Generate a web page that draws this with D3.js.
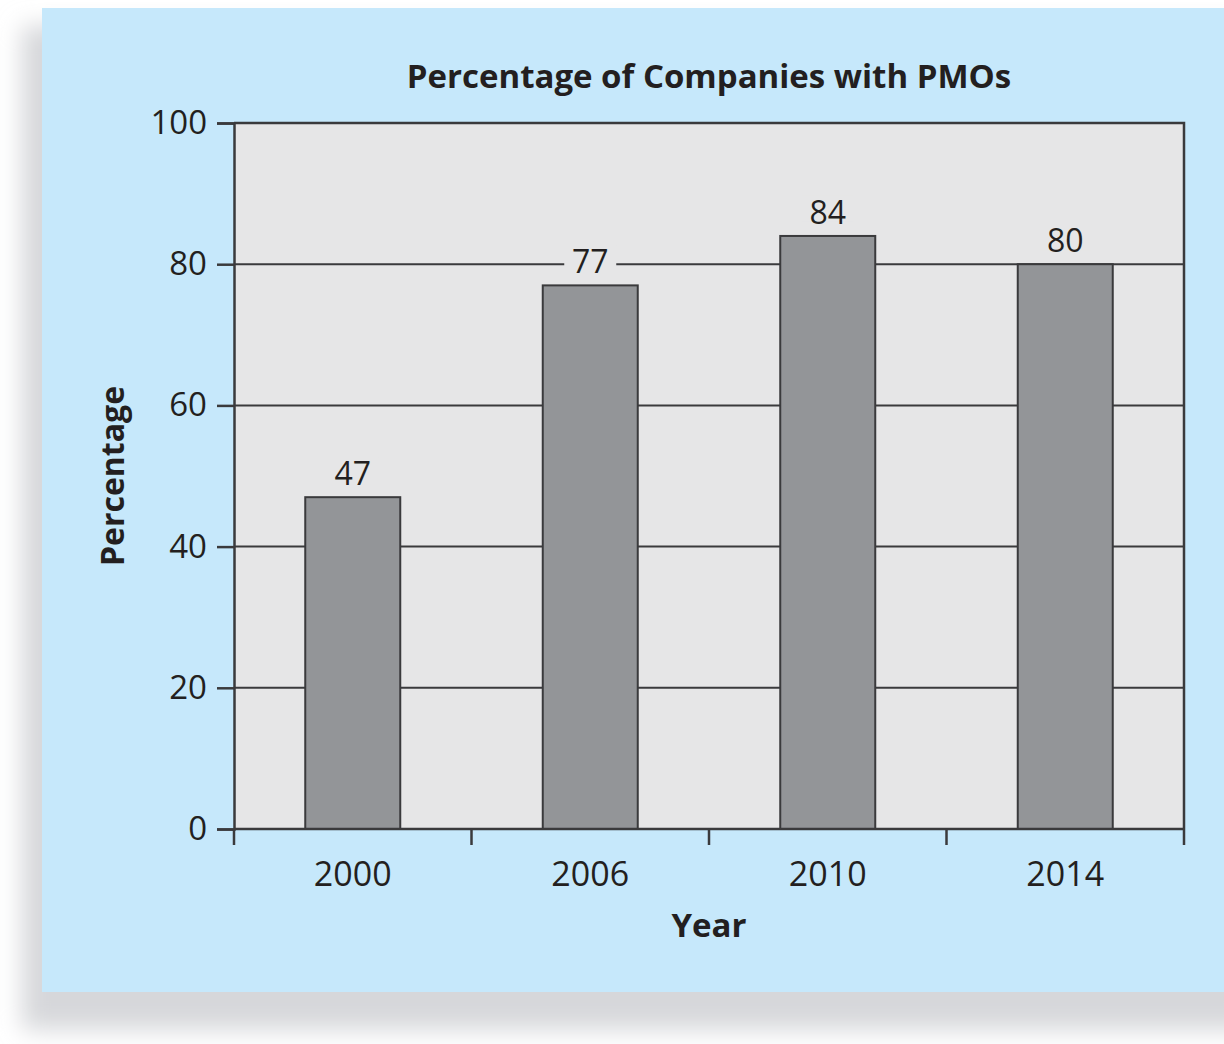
<!DOCTYPE html>
<html>
<head>
<meta charset="utf-8">
<script src="https://cdn.jsdelivr.net/npm/d3@7"></script>
<style>
  html, body { margin: 0; padding: 0; background: #fff; }
  svg { display: block; }
  text { font-family: "Open Sans", "Noto Sans", sans-serif; fill: #231f20; }
</style>
</head>
<body>
<div id="chart"></div>
<script>
// data
const years = ['2000', '2006', '2010', '2014'];
const percentages = [47, 77, 84, 80];
const yTicks = [0, 20, 40, 60, 80, 100];

const width = 1224;
const height = 1044;

const svg = d3.select('#chart').append('svg')
  .attr('width', width)
  .attr('height', height);

// soft shadow round the blue panel
const defs = svg.append('defs');
defs.append('filter')
  .attr('id', 'shadow')
  .attr('x', '-10%').attr('y', '-10%')
  .attr('width', '120%').attr('height', '120%')
  .append('feGaussianBlur')
  .attr('stdDeviation', 12);

svg.append('rect')
  .attr('x', 22).attr('y', 26)
  .attr('width', 1230).attr('height', 1004)
  .attr('fill', '#d6d7da')
  .attr('filter', 'url(#shadow)');

svg.append('rect')
  .attr('x', 42).attr('y', 8)
  .attr('width', width - 42).attr('height', 984)
  .attr('fill', '#c6e8fb');

const margin = { top: 123, right: 40, bottom: 215, left: 234 };
const chartWidth = width - margin.left - margin.right;
const chartHeight = height - margin.top - margin.bottom;

const g = svg.append('g').attr('transform', `translate(${margin.left},${margin.top})`);

const xScale = d3.scaleBand()
  .domain(years)
  .range([0, chartWidth])
  .paddingInner(0.6)
  .paddingOuter(0.3);

const yScale = d3.scaleLinear()
  .domain([0, 100])
  .range([chartHeight, 0]);

const axisColor = '#3a3a3c';

// plot background
g.append('rect')
  .attr('width', chartWidth)
  .attr('height', chartHeight)
  .attr('fill', '#e6e6e7');

// horizontal grid lines
g.append('g')
  .selectAll('line')
  .data(yTicks.filter(d => d > 0 && d < 100))
  .join('line')
  .attr('x1', 0)
  .attr('x2', chartWidth)
  .attr('y1', d => yScale(d))
  .attr('y2', d => yScale(d))
  .attr('stroke', axisColor)
  .attr('stroke-width', 2);

// bars
g.append('g')
  .selectAll('rect')
  .data(percentages)
  .join('rect')
  .attr('x', (d, i) => xScale(years[i]))
  .attr('y', d => yScale(d))
  .attr('width', xScale.bandwidth())
  .attr('height', d => chartHeight - yScale(d))
  .attr('fill', '#939598')
  .attr('stroke', axisColor)
  .attr('stroke-width', 2);

// value labels, with a patch of background so the grid line breaks round them
const labels = g.append('g')
  .selectAll('g')
  .data(percentages)
  .join('g')
  .attr('transform', (d, i) => `translate(${xScale(years[i]) + xScale.bandwidth() / 2},${yScale(d) - 12})`);

labels.append('rect')
  .attr('x', -26).attr('y', -28)
  .attr('width', 52).attr('height', 26)
  .attr('fill', '#e6e6e7');

labels.append('text')
  .attr('text-anchor', 'middle')
  .attr('font-size', '32px')
  .text(d => d);

// top and right frame
g.append('path')
  .attr('d', `M0,0H${chartWidth}V${chartHeight}`)
  .attr('fill', 'none')
  .attr('stroke', axisColor)
  .attr('stroke-width', 2.5);

// y-axis on left
const yAxis = g.append('g')
  .call(d3.axisLeft(yScale).tickValues(yTicks).tickSize(17).tickPadding(10));
yAxis.select('.domain').attr('stroke', axisColor).attr('stroke-width', 2.5);
yAxis.selectAll('.tick line').attr('stroke', axisColor).attr('stroke-width', 2.5);
yAxis.selectAll('.tick text')
  .attr('font-size', '33px')
  .attr('font-family', '"Open Sans", "Noto Sans", sans-serif')
  .attr('fill', '#231f20');

// x-axis along bottom, ticks sit between the bands
const bounds = [0].concat(years.map(y => xScale(y) + xScale.bandwidth() + xScale.step() * 0.3));
const xAxis = g.append('g')
  .attr('transform', `translate(0,${chartHeight})`);
xAxis.append('line')
  .attr('x1', 0).attr('x2', chartWidth)
  .attr('stroke', axisColor).attr('stroke-width', 2.5);
xAxis.selectAll('line.tick')
  .data(bounds)
  .join('line')
  .attr('class', 'tick')
  .attr('x1', d => d).attr('x2', d => d)
  .attr('y1', 0).attr('y2', 16)
  .attr('stroke', axisColor).attr('stroke-width', 2.5);
xAxis.selectAll('text')
  .data(years)
  .join('text')
  .attr('x', d => xScale(d) + xScale.bandwidth() / 2)
  .attr('y', 57)
  .attr('text-anchor', 'middle')
  .attr('font-size', '34px')
  .text(d => d);

// titles
svg.append('text')
  .attr('x', margin.left + chartWidth / 2)
  .attr('y', 88)
  .attr('text-anchor', 'middle')
  .attr('font-size', '33px')
  .attr('font-weight', 'bold')
  .text('Percentage of Companies with PMOs');

svg.append('text')
  .attr('x', margin.left + chartWidth / 2)
  .attr('y', 937)
  .attr('text-anchor', 'middle')
  .attr('font-size', '33px')
  .attr('font-weight', 'bold')
  .text('Year');

svg.append('text')
  .attr('transform', `translate(124,${margin.top + chartHeight / 2}) rotate(-90)`)
  .attr('text-anchor', 'middle')
  .attr('font-size', '32px')
  .attr('font-weight', 'bold')
  .text('Percentage');
</script>
</body>
</html>
